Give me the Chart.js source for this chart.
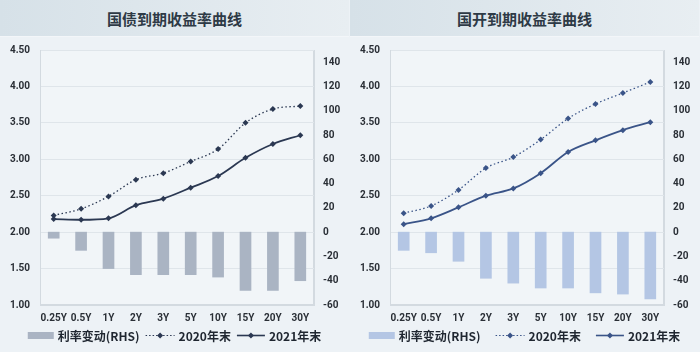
<!DOCTYPE html>
<html><head><meta charset="utf-8">
<script src="https://cdn.jsdelivr.net/npm/chart.js@4/dist/chart.umd.min.js"></script>
<style>
html,body{margin:0;padding:0;width:700px;height:352px;overflow:hidden;background:#edf2f6;}
.panel{position:absolute;top:0;width:349px;height:352px;background:#edf2f6;}
.title{height:36px;line-height:37px;text-align:center;font-family:"Noto Sans CJK SC";font-weight:bold;font-size:15px;color:#2e3a46;background:linear-gradient(90deg,#d6e1e8,#e8eef2);border-bottom:1px solid #f3f6f9;}
.cv{position:absolute;top:34px;left:0;width:349px;height:318px;}
</style></head>
<body>
<div class="panel" style="left:0"><div class="title">国债到期收益率曲线</div><div class="cv"><canvas id="c1" width="349" height="318"></canvas></div></div>
<div class="panel" style="left:350px"><div class="title">国开到期收益率曲线</div><div class="cv"><canvas id="c2" width="349" height="318"></canvas></div></div>
<script>
const categories = ['0.25Y','0.5Y','1Y','2Y','3Y','5Y','10Y','15Y','20Y','30Y'];
const gzY2020 = [2.23,2.32,2.49,2.72,2.81,2.97,3.14,3.50,3.69,3.73];
const gzY2021 = [2.18,2.17,2.19,2.37,2.46,2.61,2.77,3.02,3.21,3.33];
const gzChange = [-5,-15,-30,-35,-35,-35,-37,-48,-48,-40];
const gkY2020 = [2.26,2.36,2.58,2.88,3.03,3.27,3.56,3.76,3.91,4.06];
const gkY2021 = [2.11,2.19,2.34,2.50,2.60,2.81,3.10,3.26,3.40,3.51];
const gkChange = [-15,-17,-24,-38,-42,-46,-46,-50,-51,-55];
const leftTicks = [1.00,1.50,2.00,2.50,3.00,3.50,4.00,4.50];
const rightTicks = [-60,-40,-20,0,20,40,60,80,100,120,140];
const labels = ['利率变动(RHS)','2020年末','2021年末'];

function drawLegend(ch, barColor, lineColor, gap){
  const c=ch.ctx; c.save();
  c.font='bold 12px "Noto Sans CJK SC"';
  c.textBaseline='middle';
  const iconW=[26,29,28], tg=4;
  const tw=labels.map(t=>c.measureText(t).width);
  let total=0; for(let i=0;i<3;i++) total+=iconW[i]+tg+tw[i]; total+=gap*2;
  let x=(ch.width-total)/2; const y=301;
  for(let i=0;i<3;i++){
    const w=iconW[i];
    if(i===0){ c.fillStyle=barColor; c.fillRect(x,y-3,w,7); }
    else{
      c.strokeStyle=lineColor; c.lineWidth=i===1?1.2:1.6;
      c.setLineDash(i===1?[1.5,2]:[]);
      c.beginPath(); c.moveTo(x,y+0.5); c.lineTo(x+w,y+0.5); c.stroke(); c.setLineDash([]);
      const m=x+w/2; c.fillStyle=lineColor;
      c.beginPath(); c.moveTo(m,y-2.5); c.lineTo(m+3,y+0.5); c.lineTo(m,y+3.5); c.lineTo(m-3,y+0.5); c.closePath(); c.fill();
    }
    x+=w+tg;
    c.fillStyle='#1f2630'; c.fillText(labels[i],x,y+1);
    x+=tw[i]+gap;
  }
  c.restore();
}

function build(id, y20, y21, chg, barColor, lineColor, gap){
  new Chart(document.getElementById(id),{
    data:{labels:categories,datasets:[
      {type:'line',label:labels[1],data:y20,yAxisID:'y',borderColor:lineColor,backgroundColor:lineColor,borderWidth:1.3,borderDash:[1.5,2.5],pointStyle:'rectRot',pointRadius:3,pointBorderWidth:0,cubicInterpolationMode:'monotone',order:1},
      {type:'line',label:labels[2],data:y21,yAxisID:'y',borderColor:lineColor,backgroundColor:lineColor,borderWidth:1.8,pointStyle:'rectRot',pointRadius:3,pointBorderWidth:0,cubicInterpolationMode:'monotone',order:2},
      {type:'bar',label:labels[0],data:chg,yAxisID:'y1',backgroundColor:barColor,barThickness:11,order:3}
    ]},
    options:{responsive:false,animation:false,
      layout:{padding:{top:1,left:0,right:0,bottom:21}},
      plugins:{tooltip:{enabled:false},legend:{display:false}},
      scales:{
        x:{offset:true,grid:{display:false,drawTicks:false},border:{color:'#d3dae0'},
          ticks:{padding:7,color:'#2a2f36',maxRotation:0,autoSkip:false,font:{family:'Roboto',size:10,weight:'bold'}}},
        y:{position:'left',min:1,max:4.5,afterBuildTicks:s=>{s.ticks=leftTicks.map(v=>({value:v}));},
          afterFit:s=>{s.width=40;},
          grid:{color:'#dfe5ea',drawTicks:false},border:{color:'#d3dae0'},
          ticks:{padding:10,color:'#2a2f36',callback:v=>v.toFixed(2),font:{family:'Roboto',size:10,weight:'bold'}}},
        y1:{position:'right',min:-60,max:150,afterBuildTicks:s=>{s.ticks=rightTicks.map(v=>({value:v}));},
          afterFit:s=>{s.width=35;},
          grid:{display:false,drawTicks:false},border:{color:'#d3dae0'},
          ticks:{padding:9,color:'#2a2f36',font:{family:'Roboto',size:10,weight:'bold'}}}
      }
    },
    plugins:[{id:'bgbox',
      beforeDraw(ch){const a=ch.chartArea,c=ch.ctx;c.save();c.fillStyle='#f1f5f8';c.fillRect(a.left,a.top,a.right-a.left,a.bottom-a.top);c.strokeStyle='#d3dae0';c.lineWidth=1;c.strokeRect(a.left+0.5,a.top+0.5,a.right-a.left-1,a.bottom-a.top-1);c.restore();},
      afterDraw(ch){drawLegend(ch,barColor,lineColor,gap);}}]
  });
}
build('c1',gzY2020,gzY2021,gzChange,'#aab4c3','#2b3852',6);
build('c2',gkY2020,gkY2021,gkChange,'#b4c6e4','#3a5488',15);
</script>
</body></html>
